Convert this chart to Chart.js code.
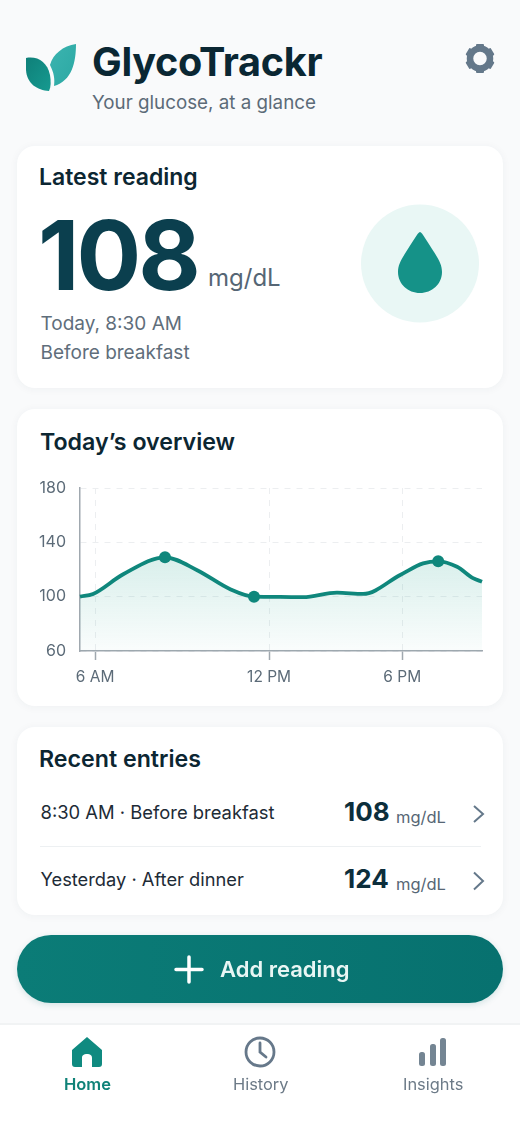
<!DOCTYPE html>
<html><head><meta charset="utf-8">
<script src="https://cdn.jsdelivr.net/npm/chart.js@4"></script>
<style>
*{box-sizing:border-box}
html,body{margin:0;padding:0;width:520px;height:1129px;overflow:hidden;background:#f9fafb;font-family:Inter,"Noto Sans",sans-serif}
.a{position:absolute;white-space:nowrap;line-height:1}
.card{position:absolute;left:17px;width:486px;background:#fff;border-radius:18px;box-shadow:0 1px 8px rgba(30,60,70,.05)}
svg{position:absolute;overflow:visible}
#wrap{position:absolute;left:20px;top:470px;width:480px;height:225px}
</style></head><body>
<svg style="left:0;top:0" width="520" height="140">
<defs><linearGradient id="l1" x1="0" y1="0" x2="1" y2="1"><stop offset="0" stop-color="#0f8079"/><stop offset="1" stop-color="#169a90"/></linearGradient>
<linearGradient id="l2" x1="0" y1="0" x2="1" y2="1"><stop offset="0" stop-color="#3cb4b0"/><stop offset="1" stop-color="#2ba8a3"/></linearGradient></defs>
<path d="M26 58C38 56 47 62 50 75C51 81 51 87 49 91C37 90 27 84 26 70Z" fill="url(#l1)"/>
<path d="M76 44C76 62 72 81 54 86C55 79 54 73 50 65C53 54 63 46 76 44Z" fill="url(#l2)"/>
<g fill="#64788a"><circle cx="480" cy="58.500" r="10" fill="none" stroke="#64788a" stroke-width="6.500"/>
<g id="t"><rect x="476" y="44" width="8" height="6" rx="1"/><rect x="476" y="67" width="8" height="6" rx="1"/></g>
<use href="#t" transform="rotate(60 480 58.500)"/><use href="#t" transform="rotate(120 480 58.500)"/></g>
</svg>
<div class="a" style="left:92px;top:43px;font-size:39.600px;font-weight:700;color:#0a2733;letter-spacing:-.3px">GlycoTrackr</div>
<div class="a" style="left:92px;top:94px;font-size:18.800px;color:#5c6b78">Your glucose, at a glance</div>

<div class="card" style="top:146px;height:242px"></div>
<div class="a" style="left:39px;top:166px;font-size:23px;font-weight:600;color:#0c2632">Latest reading</div>
<div class="a" style="left:38px;top:207px;font-size:96px;font-weight:700;color:#0b3f4e;letter-spacing:-3px">108</div>
<div class="a" style="left:208px;top:266px;font-size:24px;color:#566675">mg/dL</div>
<div class="a" style="left:40.500px;top:314px;font-size:19px;color:#5f6e7b">Today, 8:30 AM</div>
<div class="a" style="left:40.500px;top:343px;font-size:19px;color:#5f6e7b">Before breakfast</div>
<svg style="left:0;top:0" width="520" height="340"><circle cx="420" cy="263.500" r="59" fill="#e9f7f5"/>
<path d="M420 232C422 232 428 243 434 252C439 260 442 265 442 272C442 284 432 293 420 293C408 293 398 284 398 272C398 265 401 260 406 252C412 243 418 232 420 232Z" fill="#159288"/></svg>

<div class="card" style="top:409px;height:297px"></div>
<div class="a" style="left:40px;top:431px;font-size:23.200px;font-weight:600;color:#0c2632">Today’s overview</div>
<div id="wrap"><canvas id="c" width="480" height="225"></canvas></div>

<div class="card" style="top:727px;height:188px"></div>
<div class="a" style="left:39px;top:748px;font-size:23.200px;font-weight:600;color:#0c2632">Recent entries</div>
<div class="a" style="left:40.500px;top:803px;font-size:18.400px;color:#1d2b36">8:30 AM · Before breakfast</div>
<div class="a" style="left:344px;top:799px;font-size:26px;font-weight:700;color:#0c2e3c">108</div>
<div class="a" style="left:396px;top:809px;font-size:16.500px;color:#566675">mg/dL</div>
<div class="a" style="left:40.500px;top:870px;font-size:18.300px;color:#1d2b36">Yesterday · After dinner</div>
<div class="a" style="left:344px;top:866px;font-size:26px;font-weight:700;color:#0c2e3c">124</div>
<div class="a" style="left:396px;top:876px;font-size:16.500px;color:#566675">mg/dL</div>
<div class="a" style="left:40px;top:846px;width:441px;height:1px;background:#edf0f2"></div>
<svg style="left:0;top:0" width="520" height="900"><path d="M474 806L483 814L474 822M474 872.500L483 881L474 889.500" fill="none" stroke="#64788a" stroke-width="2"/></svg>

<div class="a" style="left:17px;top:935px;width:486px;height:68px;border-radius:34px;background:linear-gradient(90deg,#0b7c77,#07716f);box-shadow:0 2px 6px rgba(10,100,100,.15)"></div>
<svg style="left:0;top:0" width="520" height="1000"><path d="M189 957V982M176 969.500H202" stroke="#fff" stroke-width="3.500" fill="none" stroke-linecap="round"/></svg>
<div class="a" style="left:220px;top:958px;font-size:22px;font-weight:600;color:#e8f6f4">Add reading</div>

<div class="a" style="left:0;top:1023px;width:520px;height:106px;background:#fff;border-top:2px solid #f1f3f4"></div>
<svg style="left:0;top:0" width="520" height="1129">
<path d="M87 1037L102 1050V1064C102 1066 101 1067 99 1067H92V1058C92 1055 90 1054 87 1054C84 1054 82 1055 82 1058V1067H75C73 1067 72 1066 72 1064V1050Z" fill="#0f8a80"/>
<circle cx="260" cy="1052" r="14" fill="none" stroke="#66788a" stroke-width="2.800"/>
<path d="M260 1043V1052L266 1057" fill="none" stroke="#66788a" stroke-width="2.800" stroke-linecap="round"/>
<g fill="#748593"><rect x="419" y="1052" width="6" height="14" rx="2.500"/><rect x="430" y="1044" width="6" height="22" rx="2.500"/><rect x="440" y="1038" width="6" height="28" rx="2.500"/></g>
</svg>
<div class="a" style="left:64px;top:1076px;font-size:16.500px;font-weight:600;color:#0f8278">Home</div>
<div class="a" style="left:233px;top:1076px;font-size:16.400px;color:#6c7a87">History</div>
<div class="a" style="left:403px;top:1076px;font-size:16.400px;color:#6c7a87">Insights</div>

<script>
const hours=[5.48,5.93,6.97,8.41,9.52,10.66,11.48,12.38,13.17,14.34,15.24,16.52,17.31,17.83,18.48,19.03,19.34];
const glucose=[100,102,116.500,129,119.500,105.500,100,99.800,99.600,103,102,116,124.500,126,122,113.700,111];
const markerHours=[8.41,11.48,17.83];
const markerGlucose=[129,100,126];
const yTicks=[60,100,140,180];
const xTickValues=[6,12,16.59];
const xTickLabels=['6 AM','12 PM','6 PM'];
const toPts=(xs,ys)=>xs.map((x,i)=>({x,y:ys[i]}));
const teal='#0f877c';
new Chart(document.getElementById('c'),{
 type:'line',
 data:{datasets:[
  {data:toPts(markerHours,markerGlucose),showLine:false,pointRadius:6,pointBackgroundColor:teal,pointBorderWidth:0,clip:false},
  {data:toPts(hours,glucose),borderColor:teal,borderWidth:3.800,pointRadius:0,cubicInterpolationMode:'monotone',fill:'start',clip:false,
   backgroundColor(ctx){const a=ctx.chart.chartArea;if(!a)return 'transparent';
    const g=ctx.chart.ctx.createLinearGradient(0,a.top+68,0,a.bottom);
    g.addColorStop(0,'rgba(40,165,145,.18)');g.addColorStop(1,'rgba(40,165,145,.025)');return g;}}
 ]},
 options:{responsive:false,animation:false,devicePixelRatio:1,
  layout:{padding:{top:18,right:18,left:0,bottom:0}},
  plugins:{legend:{display:false},tooltip:{enabled:false}},
  scales:{
   x:{type:'linear',min:5.48,max:19.34,
    afterBuildTicks(s){s.ticks=xTickValues.map(value=>({value}));},
    afterFit(s){s.height=44;},
    ticks:{autoSkip:false,maxRotation:0,padding:8,color:'#5c6b78',font:{family:'Inter',size:15.500},
     callback(v){const i=xTickValues.indexOf(v);return xTickLabels[i];}},
    grid:{color:'#eceef0',tickColor:'#a0a8af',tickLength:9,tickWidth:1.500,lineWidth:1},
    border:{color:'#a0a8af',width:1.500,dash:[6,6]}},
   y:{min:60,max:180,
    afterBuildTicks(s){s.ticks=yTicks.map(value=>({value}));},
    afterFit(s){s.width=60;s.paddingTop=0;s.paddingBottom=0;},
    ticks:{padding:14,color:'#5c6b78',font:{family:'Inter',size:16}},
    grid:{color:'#eceef0',drawTicks:false,lineWidth:1},
    border:{color:'#a0a8af',width:1.500,dash:[6,6]}}
  }}
});
</script>
</body></html>
